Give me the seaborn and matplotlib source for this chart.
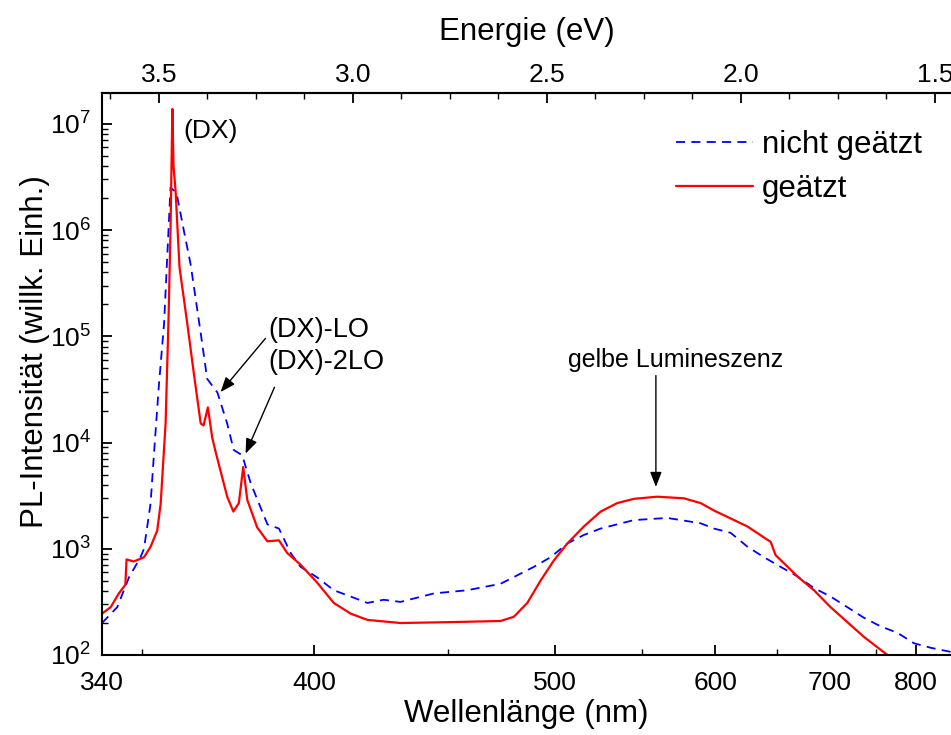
import numpy as np
import pandas as pd
import matplotlib
matplotlib.use("Agg")
import matplotlib.pyplot as plt
import matplotlib.ticker as mticker
import seaborn as sns

HC = 1239.84  # eV*nm

# --- data (wavelength in nm, intensity arb. units) ---
wl_geaetzt = [340.0, 342.1, 344.1, 345.3, 345.7, 346.0, 347.8, 350.4, 352.1, 353.8,
              354.7, 356.0, 356.8, 357.3, 357.8, 358.1, 358.65, 359.7, 361.8, 363.6,
              365.5, 366.3, 367.5, 368.7, 369.7, 373.0, 374.8, 376.4, 377.7, 378.9,
              381.9, 385.0, 388.6, 391.2, 395.5, 401.0, 406.6, 412.5, 418.5, 430.9,
              451.2, 473.3, 479.6, 486.1, 492.7, 499.5, 506.6, 515.6, 525.0, 534.7,
              544.8, 559.6, 577.5, 589.3, 599.1, 625.1, 644.6, 648.9, 668.5, 684.3,
              700.9, 718.4, 736.7, 756.0, 768.1]
int_geaetzt = [245, 282, 380, 437, 457, 794, 759, 832, 1047, 1479,
               2630, 15136, 158489, 1.0e6, 1.38e7, 3.98e6, 2.34e6, 4.47e5, 1.32e5, 4.47e4,
               1.51e4, 1.45e4, 2.14e4, 1.12e4, 8130, 3090, 2240, 2690, 5890, 2880,
               1585, 1175, 1200, 912, 708, 479, 309, 245, 214, 200,
               204, 209, 229, 309, 501, 776, 1122, 1622, 2239, 2692,
               2951, 3090, 2985, 2692, 2291, 1622, 1161, 871, 550, 407,
               282, 204, 148, 112, 95]

wl_nicht = [340.0, 343.7, 346.6, 349.5, 350.4, 352.1, 352.9, 354.2, 355.6, 356.5,
            357.3, 358.9, 360.9, 362.7, 365.5, 367.3, 370.2, 373.0, 374.9, 377.4,
            379.9, 385.0, 388.6, 392.3, 395.5, 401.0, 406.6, 412.5, 418.5, 424.5,
            430.9, 444.2, 458.3, 473.3, 489.4, 497.8, 506.6, 515.6, 525.0, 544.8,
            566.2, 589.3, 599.1, 611.8, 625.1, 638.9, 653.3, 668.5, 684.3, 700.9,
            718.4, 736.7, 756.0, 776.4, 797.8, 820.5, 849.5]
int_nicht = [200, 282, 537, 832, 1000, 2692, 7244, 33113, 1.32e5, 6.31e5,
             2.51e6, 2.24e6, 9.77e5, 4.79e5, 1.07e5, 3.98e4, 2.95e4, 1.51e4, 8511, 7586,
             4169, 1698, 1549, 912, 676, 537, 407, 355, 309, 331,
             316, 380, 407, 468, 676, 832, 1122, 1349, 1549, 1862,
             1950, 1738, 1549, 1413, 1047, 832, 676, 550, 427, 355,
             282, 224, 186, 162, 129, 117, 107]

wl_major = [340, 400, 500, 600, 700, 800]
wl_minor = [350, 450, 550, 650, 750]
energy_major = [3.5, 3.0, 2.5, 2.0, 1.5]

label_nicht = "nicht geätzt"
label_geaetzt = "geätzt"

df = pd.concat([
    pd.DataFrame({"E": HC / np.array(wl_nicht), "I": int_nicht, "Probe": label_nicht}),
    pd.DataFrame({"E": HC / np.array(wl_geaetzt), "I": int_geaetzt, "Probe": label_geaetzt}),
])

sns.set_style("ticks")
plt.rcParams["font.family"] = ["Liberation Sans", "DejaVu Sans"]
plt.rcParams["mathtext.default"] = "regular"
plt.rcParams["text.color"] = "black"
plt.rcParams["axes.labelcolor"] = "black"
plt.rcParams["xtick.color"] = "black"
plt.rcParams["ytick.color"] = "black"

W, H = 951, 735
fig = plt.figure(figsize=(W / 100, H / 100), dpi=100)
left, right, top, bottom = 102, 951, 93, 655
ax = fig.add_axes([left / W, 1 - bottom / H, (right - left) / W, (bottom - top) / H])

sns.lineplot(data=df[df.Probe == label_nicht], x="E", y="I", ax=ax, color="#0000ff",
             linestyle=(0, (5, 3.5)), linewidth=1.3, label=label_nicht, sort=False)
sns.lineplot(data=df[df.Probe == label_geaetzt], x="E", y="I", ax=ax, color="#ff0000",
             linewidth=1.6, label=label_geaetzt, sort=False)

ax.set_yscale("log")
ax.set_xlim(HC / 340, HC / 850)
ax.set_ylim(100, 1.95e7)

# bottom axis: wavelength ticks on the energy-linear axis
ax.set_xticks([HC / w for w in wl_major])
ax.set_xticklabels([str(w) for w in wl_major])
ax.set_xticks([HC / w for w in wl_minor], minor=True)
ax.yaxis.set_major_locator(mticker.LogLocator(base=10, numticks=10))
ax.yaxis.set_minor_locator(mticker.LogLocator(base=10, subs=np.arange(2, 10), numticks=20))

for s in ["left", "bottom", "top"]:
    ax.spines[s].set_linewidth(1.5)
    ax.spines[s].set_color("black")
ax.spines["right"].set_visible(False)

ax.tick_params(axis="both", which="major", direction="in", length=7, width=1.3,
               labelsize=19, pad=8, colors="black")
ax.tick_params(axis="x", which="major", pad=11.5)
ax.tick_params(axis="both", which="minor", direction="in", length=4, width=1.0)
ax.tick_params(axis="y", right=False)

sec = ax.secondary_xaxis("top", functions=(lambda x: x, lambda x: x))
sec.set_xticks(energy_major)
sec.set_xticklabels([f"{e:.1f}" for e in energy_major])
sec.xaxis.set_minor_locator(mticker.MultipleLocator(0.125))
sec.tick_params(axis="x", which="major", direction="in", length=7, width=1.3,
                labelsize=19, pad=4, colors="black")
sec.tick_params(axis="x", which="minor", direction="in", length=4, width=1.0)
sec.spines["top"].set_linewidth(1.5)
sec.set_xlabel("Energie (eV)", fontsize=22.5, labelpad=17)

ax.set_xlabel("Wellenlänge (nm)", fontsize=22.5, labelpad=3)
ax.set_ylabel("PL-Intensität (willk. Einh.)", fontsize=22.5)
ax.yaxis.set_label_coords(-0.061, 0.54)

# annotations
ax.text(HC / 360.8, 10 ** 6.93, "(DX)", fontsize=19, va="center", ha="left")
arrow = dict(arrowstyle="-|>,head_length=0.9,head_width=0.35", color="black", lw=1.0,
             shrinkA=0, shrinkB=0)
ax.annotate("", xy=(HC / 371.1, 10 ** 4.475), xytext=(HC / 384.4, 10 ** 4.98), arrowprops=arrow)
ax.annotate("", xy=(HC / 378.4, 10 ** 3.896), xytext=(HC / 387.2, 10 ** 4.52), arrowprops=arrow)
ax.text(HC / 385.3, 10 ** 5.06, "(DX)-LO", fontsize=19.5, va="center", ha="left")
ax.text(HC / 385.3, 10 ** 4.754, "(DX)-2LO", fontsize=19.5, va="center", ha="left")
ax.annotate("", xy=(HC / 558.7, 10 ** 3.582), xytext=(HC / 558.7, 10 ** 4.63), arrowprops=arrow)
ax.text(HC / 571.6, 10 ** 4.773, "gelbe Lumineszenz", fontsize=18, va="center", ha="center")

leg = ax.legend(loc="upper left", bbox_to_anchor=(676 / W, 1 - 130 / H),
                bbox_transform=fig.transFigure, frameon=False, fontsize=22.5,
                handlelength=2.45, handletextpad=0.3, labelspacing=0.45, borderpad=0,
                borderaxespad=0)

fig.savefig("out.png", dpi=100)
